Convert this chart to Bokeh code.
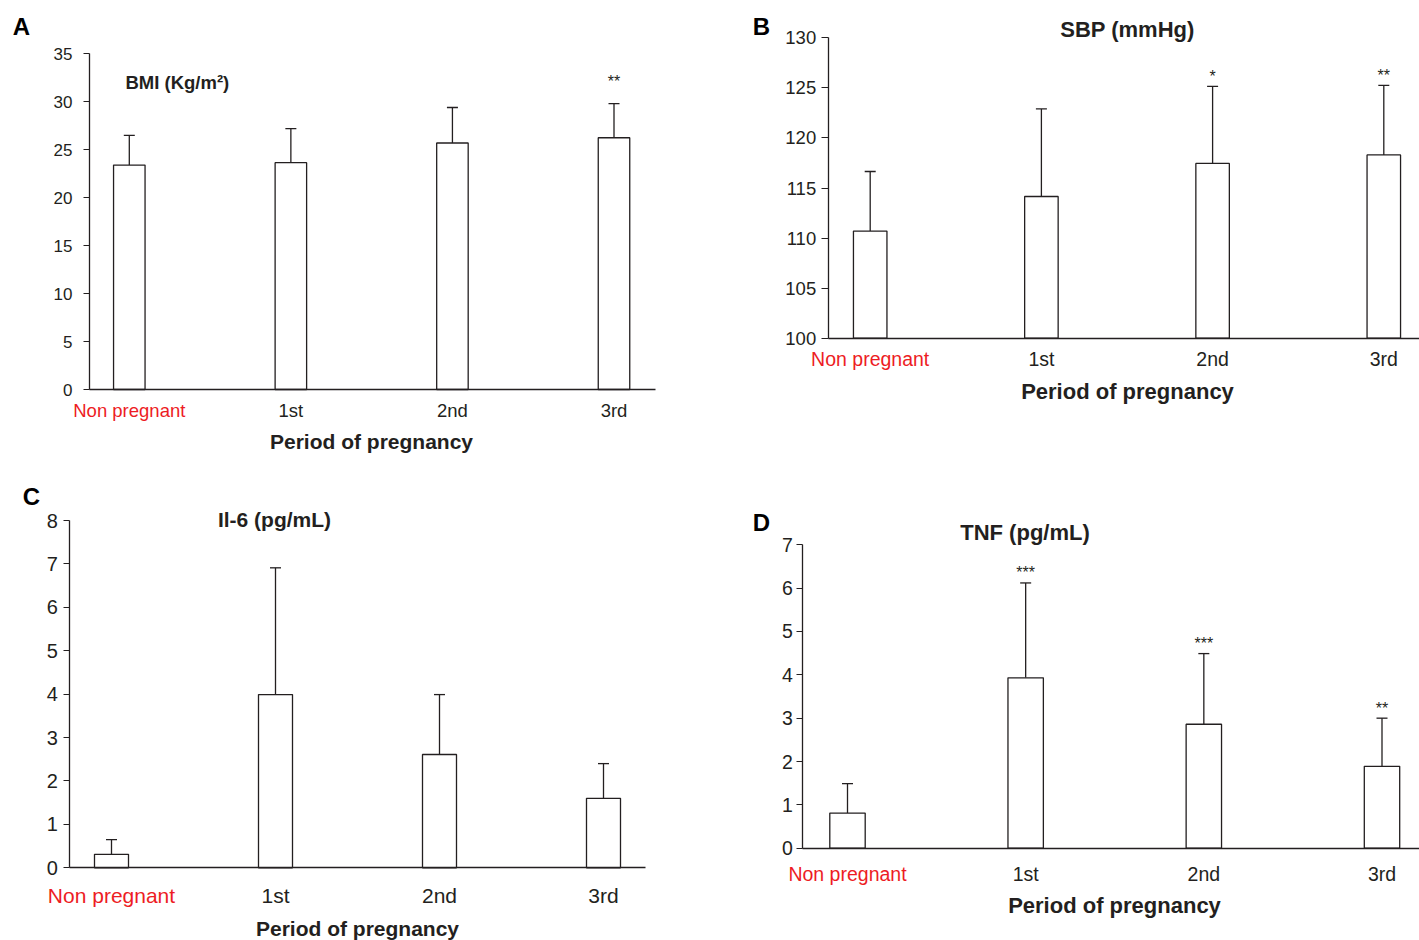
from bokeh.plotting import figure
from bokeh.models import ColumnDataSource, Whisker, TeeHead, Label, FixedTicker, Range1d
from bokeh.layouts import row, column
from bokeh.embed import file_html
from bokeh.resources import INLINE

# ---------------- data ----------------
periods = ["Non pregnant", "1st", "2nd", "3rd"]
period_colors = ["#ed1c24", "#231f20", "#231f20", "#231f20"]
x_pos = [0, 1, 2, 3]
x_axis_title = "Period of pregnancy"

bmi_title = "BMI (Kg/m²)"
bmi_mean = [23.4, 23.65, 25.7, 26.25]
bmi_sd = [3.1, 3.55, 3.7, 3.55]
bmi_sig = ["", "", "", "**"]
bmi_ticks = [0, 5, 10, 15, 20, 25, 30, 35]

sbp_title = "SBP (mmHg)"
sbp_mean = [110.7, 114.15, 117.45, 118.3]
sbp_sd = [5.95, 8.75, 7.7, 6.95]
sbp_sig = ["", "", "*", "**"]
sbp_ticks = [100, 105, 110, 115, 120, 125, 130]

il6_title = "Il-6 (pg/mL)"
il6_mean = [0.31, 3.99, 2.61, 1.6]
il6_sd = [0.34, 2.92, 1.38, 0.8]
il6_sig = ["", "", "", ""]
il6_ticks = [0, 1, 2, 3, 4, 5, 6, 7, 8]

tnf_title = "TNF (pg/mL)"
tnf_mean = [0.81, 3.93, 2.86, 1.89]
tnf_sd = [0.68, 2.19, 1.63, 1.11]
tnf_sig = ["", "***", "***", "**"]
tnf_ticks = [0, 1, 2, 3, 4, 5, 6, 7]

INK = "#231f20"
FONT = "Liberation Sans"


def make_panel(letter, title, means, sds, sig, ticks, cfg):
    W, H = cfg["W"], cfg["H"]
    y0, y1 = ticks[0], ticks[-1]
    n = len(x_pos) - 1
    # pixel layout -> data ranges
    sx = (cfg["c3"] - cfg["c0"]) / n
    x_start = -cfg["c0"] / sx
    x_end = (W - cfg["c0"]) / sx
    xl = (cfg["ax_l"] - cfg["c0"]) / sx
    xr = (cfg["ax_r"] - cfg["c0"]) / sx
    sy = (cfg["ax_b"] - cfg["ax_t"]) / (y1 - y0)
    y_start = y0 - (H - cfg["ax_b"]) / sy
    y_end = y1 + cfg["ax_t"] / sy

    p = figure(width=W, height=H, min_border=0,
               x_range=Range1d(x_start, x_end), y_range=Range1d(y_start, y_end),
               output_backend="svg", toolbar_location=None, tools="")
    p.grid.visible = False
    p.outline_line_color = None
    p.background_fill_color = "white"
    p.border_fill_color = "white"

    ya = p.yaxis[0]
    ya.fixed_location = xl
    ya.bounds = (y0, y1)
    ya.ticker = FixedTicker(ticks=ticks, minor_ticks=[])
    ya.major_tick_out = cfg["tick"]
    ya.major_tick_in = 0
    ya.minor_tick_out = 0
    ya.minor_tick_in = 0
    ya.major_tick_line_color = INK
    ya.major_tick_line_width = 1.2
    ya.axis_line_color = INK
    ya.axis_line_width = 1.3
    ya.major_label_text_font = FONT
    ya.major_label_text_font_size = cfg["tfs"]
    ya.major_label_text_color = INK
    ya.major_label_standoff = cfg["std"]

    xa = p.xaxis[0]
    xa.fixed_location = y0
    xa.bounds = (xl, xr)
    xa.ticker = FixedTicker(ticks=[], minor_ticks=[])
    xa.major_tick_out = 0
    xa.major_tick_in = 0
    xa.minor_tick_out = 0
    xa.minor_tick_in = 0
    xa.major_label_text_font_size = "0px"
    xa.axis_line_color = INK
    xa.axis_line_width = 1.3

    upper = [m + s for m, s in zip(means, sds)]
    src = ColumnDataSource(dict(x=x_pos, top=means, upper=upper))
    p.vbar(x="x", top="top", bottom=y0, width=cfg["bw_px"] / sx, source=src,
           fill_color="white", line_color=INK, line_width=1.3)
    p.add_layout(Whisker(source=src, base="x", lower="top", upper="upper",
                         dimension="height", line_color=INK, line_width=1.3,
                         upper_head=TeeHead(size=11, line_color=INK, line_width=1.3),
                         lower_head=None))

    # significance marks
    for xi, u, s in zip(x_pos, upper, sig):
        if s:
            p.add_layout(Label(x=xi, y=u, y_offset=cfg["star"], text=s,
                               text_align="center", text_baseline="alphabetic",
                               text_font=FONT, text_font_size="16px",
                               text_color=INK))

    # category labels
    for xi, name, col in zip(x_pos, periods, period_colors):
        p.add_layout(Label(x=xi, y=y0, y_offset=-cfg["cat_dy"], text=name,
                           text_align="center", text_baseline="middle",
                           text_font=FONT, text_font_size=cfg["cfs"],
                           text_color=col))

    # x axis title
    p.add_layout(Label(x=xl, y=y0, x_offset=cfg["ax_dx"], y_offset=-cfg["ax_dy"],
                       text=x_axis_title, text_align="center", text_baseline="middle",
                       text_font=FONT, text_font_style="bold",
                       text_font_size=cfg["afs"], text_color=INK))

    # panel title
    p.add_layout(Label(x=xl, y=y1, x_offset=cfg["ti_dx"], y_offset=cfg["ti_dy"],
                       text=title, text_align=cfg["ti_align"], text_baseline="middle",
                       text_font=FONT, text_font_style="bold",
                       text_font_size=cfg["ttfs"], text_color=INK))

    # panel letter
    p.add_layout(Label(x=xl, y=y1, x_offset=cfg["le_dx"], y_offset=cfg["le_dy"],
                       text=letter, text_align="center", text_baseline="middle",
                       text_font=FONT, text_font_style="bold",
                       text_font_size="24px", text_color="black"))
    return p


cfgA = dict(W=740, H=470, ax_l=89, ax_r=655, ax_t=53.3, ax_b=389, c0=128.8, c3=613.5,
            tick=6, std=11, tfs="17px", bw_px=31.5, star=22.5,
            cat_dy=21.3, cfs="18.5px", ax_dx=282, ax_dy=52, afs="21px",
            ti_dx=36, ti_dy=-28.7, ti_align="left", ttfs="18.5px",
            le_dx=-68, le_dy=27.3)
cfgB = dict(W=679, H=490, ax_l=87.7, ax_r=679, ax_t=37.3, ax_b=337.7, c0=129.7, c3=643.3,
            tick=7, std=5, tfs="18.5px", bw_px=33.5, star=9.5,
            cat_dy=20.3, cfs="19.5px", ax_dx=299.3, ax_dy=53.3, afs="22px",
            ti_dx=299.3, ti_dy=8.3, ti_align="center", ttfs="22px",
            le_dx=-66.7, le_dy=11.3)
cfgC = dict(W=740, H=470, ax_l=69.3, ax_r=645, ax_t=50, ax_b=397.3, c0=111, c3=603,
            tick=6, std=6, tfs="20px", bw_px=34, star=9.5,
            cat_dy=27.7, cfs="21px", ax_dx=287.7, ax_dy=60.5, afs="21px",
            ti_dx=204.7, ti_dy=1, ti_align="center", ttfs="21px",
            le_dx=-38.3, le_dy=24)
cfgD = dict(W=679, H=450, ax_l=62.3, ax_r=679, ax_t=54.3, ax_b=357.7, c0=107, c3=641.5,
            tick=6, std=4, tfs="19.5px", bw_px=35.4, star=10,
            cat_dy=25.3, cfs="19.5px", ax_dx=311.7, ax_dy=57.3, afs="22px",
            ti_dx=222.2, ti_dy=12.3, ti_align="center", ttfs="22px",
            le_dx=-41.3, le_dy=22.3)

pA = make_panel("A", bmi_title, bmi_mean, bmi_sd, bmi_sig, bmi_ticks, cfgA)
pB = make_panel("B", sbp_title, sbp_mean, sbp_sd, sbp_sig, sbp_ticks, cfgB)
pC = make_panel("C", il6_title, il6_mean, il6_sd, il6_sig, il6_ticks, cfgC)
pD = make_panel("D", tnf_title, tnf_mean, tnf_sd, tnf_sig, tnf_ticks, cfgD)

layout = row(column(pA, pC), column(pB, pD))
open("out.html", "w").write(file_html(layout, INLINE))
